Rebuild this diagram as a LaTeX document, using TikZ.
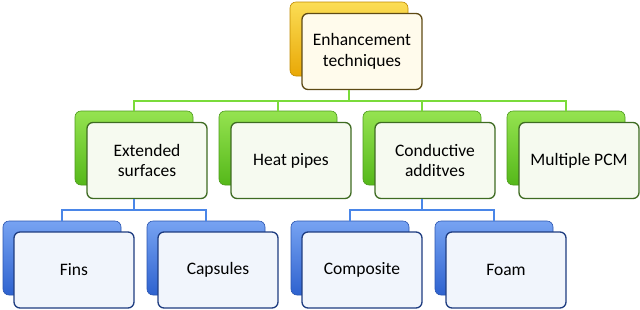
\documentclass[tikz,border=0pt]{standalone}
\usepackage{fontspec}
\setmainfont{Carlito}
\definecolor{ytop}{HTML}{FBDD55}
\definecolor{ybot}{HTML}{E9A806}
\definecolor{ydraw}{HTML}{C08A00}
\definecolor{yfront}{HTML}{FFFBEC}
\definecolor{yborder}{HTML}{5E4A14}
\definecolor{gtop}{HTML}{95E350}
\definecolor{gbot}{HTML}{55B81A}
\definecolor{gdraw}{HTML}{4C9A1C}
\definecolor{gfront}{HTML}{F6FAF0}
\definecolor{gborder}{HTML}{3E6B22}
\definecolor{btop}{HTML}{77A3F2}
\definecolor{bbot}{HTML}{2E62CF}
\definecolor{bdraw}{HTML}{2A55B0}
\definecolor{bfront}{HTML}{F1F5FC}
\definecolor{bborder}{HTML}{1E3C80}
\definecolor{gline}{HTML}{7ADB3A}
\definecolor{bline}{HTML}{4A86E8}
\tikzset{
  backbox/.style={rectangle, rounded corners=6pt, minimum width=118pt, minimum height=74pt, inner sep=0pt, line width=0.6pt},
  frontbox/.style={rectangle, rounded corners=6pt, minimum width=120pt, minimum height=76pt, inner sep=2pt, line width=1.3pt, align=center, font=\fontsize{17.5}{20.5}\selectfont, text=black},
  yback/.style={backbox, top color=ytop, bottom color=ybot, draw=ydraw},
  gback/.style={backbox, top color=gtop, bottom color=gbot, draw=gdraw},
  bback/.style={backbox, top color=btop, bottom color=bbot, draw=bdraw},
  yfr/.style={frontbox, fill=yfront, draw=yborder},
  gfr/.style={frontbox, fill=gfront, draw=gborder},
  bfr/.style={frontbox, fill=bfront, draw=bborder},
  gconn/.style={draw=gline, line width=2.2pt},
  bconn/.style={draw=bline, line width=2.2pt}
}
\begin{document}
\begin{tikzpicture}[x=1pt,y=-1pt]
\useasboundingbox (0,0) rectangle (640,309);
% level 1
\node[yback] (t1b) at (349,39) {};
\node[yfr] (t1f) at (362,51.5) {Enhancement\\techniques};
% level 2
\node[gback] (l2ab) at (134,148) {};
\node[gfr] (l2af) at (147,160.5) {Extended\\surfaces};
\node[gback] (l2bb) at (278,148) {};
\node[gfr] (l2bf) at (291,160.5) {Heat pipes};
\node[gback] (l2cb) at (422,148) {};
\node[gfr] (l2cf) at (435,160.5) {Conductive\\additves};
\node[gback] (l2db) at (566,148) {};
\node[gfr] (l2df) at (579,160.5) {Multiple PCM};
% level 3
\node[bback] (l3ab) at (62,258) {};
\node[bfr] (l3af) at (74,270) {Fins};
\node[bback] (l3bb) at (206,258) {};
\node[bfr] (l3bf) at (218,270) {Capsules};
\node[bback] (l3cb) at (350,258) {};
\node[bfr] (l3cf) at (362,270) {Composite};
\node[bback] (l3db) at (494,258) {};
\node[bfr] (l3df) at (506,270) {Foam};
% connectors
\draw[gconn] (t1f.south -| t1b.center) -- ++(0,10.5) coordinate (j1);
\foreach \n in {a,b,c,d} \draw[gconn] (j1) -| (l2\n b.north);
\draw[bconn] (l2af.south -| l2ab.center) -- ++(0,10.5) coordinate (j2);
\foreach \n in {a,b} \draw[bconn] (j2) -| (l3\n b.north);
\draw[bconn] (l2cf.south -| l2cb.center) -- ++(0,10.5) coordinate (j3);
\foreach \n in {c,d} \draw[bconn] (j3) -| (l3\n b.north);
\end{tikzpicture}
\end{document}
